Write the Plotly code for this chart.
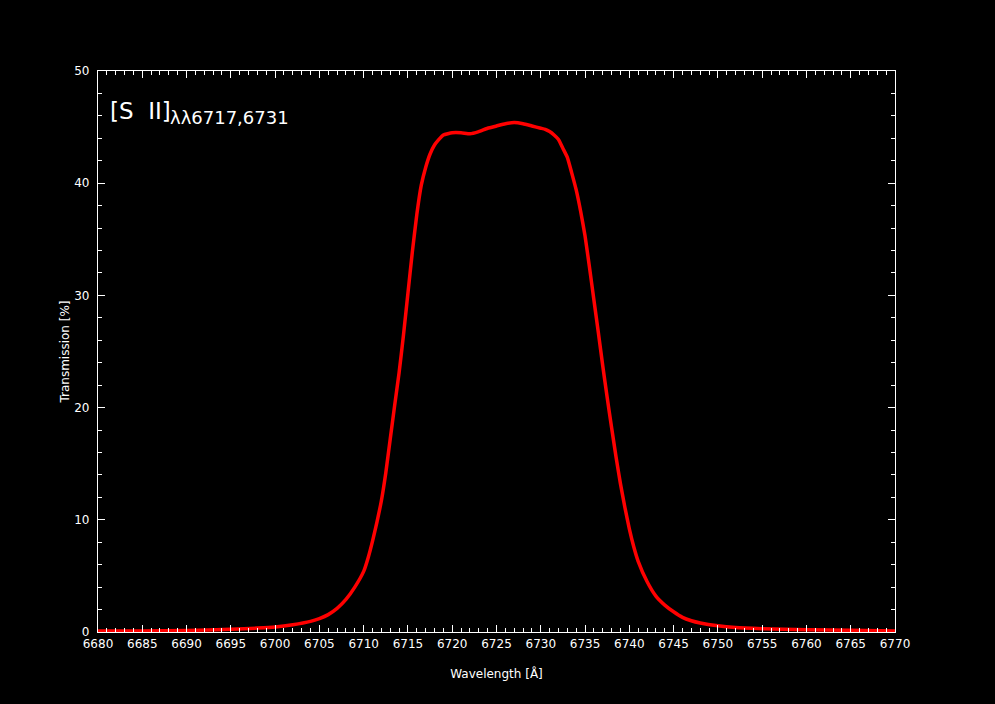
import plotly.graph_objects as go

# filter transmission curve
wavelength = [
    6680, 6685, 6690, 6695, 6698, 6700, 6702, 6704, 6705, 6706,
    6707, 6708, 6709, 6710, 6710.5, 6711, 6711.5, 6712, 6712.5, 6713,
    6713.5, 6714, 6714.5, 6715, 6715.5, 6716, 6716.5, 6717, 6717.5, 6718,
    6718.5, 6719, 6720, 6721, 6722, 6723, 6724, 6725, 6726, 6727,
    6728, 6729, 6730, 6730.5, 6731, 6731.5, 6732, 6732.5, 6733, 6733.5,
    6734, 6734.5, 6735, 6735.5, 6736, 6736.5, 6737, 6737.5, 6738, 6738.5,
    6739, 6739.5, 6740, 6740.5, 6741, 6742, 6743, 6744, 6745, 6746,
    6747, 6748, 6750, 6752, 6755, 6760, 6765, 6770,
]
transmission = [
    0.08, 0.10, 0.14, 0.24, 0.35, 0.45, 0.65, 0.95, 1.2, 1.55,
    2.1, 2.9, 4.0, 5.4, 6.6, 8.1, 9.8, 11.7, 14.2, 17.2,
    20.2, 23.1, 26.5, 30.2, 33.9, 37.2, 39.8, 41.4, 42.6, 43.4,
    43.9, 44.3, 44.5, 44.5, 44.4, 44.6, 44.9, 45.1, 45.3, 45.4,
    45.3, 45.1, 44.9, 44.8, 44.6, 44.3, 43.9, 43.1, 42.3, 40.9,
    39.4, 37.5, 35.3, 32.5, 29.6, 26.7, 23.7, 20.9, 18.2, 15.6,
    13.2, 11.1, 9.2, 7.6, 6.3, 4.5, 3.2, 2.4, 1.8, 1.3,
    1.0, 0.8, 0.55, 0.4, 0.3, 0.2, 0.15, 0.1,
]

FONT = "DejaVu Sans"

fig = go.Figure()
fig.add_trace(go.Scatter(
    x=wavelength, y=transmission, mode="lines",
    line=dict(color="#ff0000", width=3.5, shape="spline", smoothing=0.4),
    showlegend=False,
))

axis_common = dict(
    showline=True, linecolor="white", linewidth=1.2, mirror="allticks",
    ticks="inside", tickcolor="white", ticklen=7, tickwidth=1.2,
    showgrid=False, zeroline=False,
    tickfont=dict(family=FONT, size=12, color="white"),
)

fig.update_xaxes(
    range=[6680, 6770], dtick=5, tick0=6680,
    minor=dict(dtick=1, ticks="inside", ticklen=4, tickcolor="white", tickwidth=1.2, showgrid=False),
    title=dict(text="Wavelength [Å]", font=dict(family=FONT, size=12, color="white"), standoff=20),
    **axis_common,
)
fig.update_yaxes(
    range=[0, 50], dtick=10, tick0=0, ticklabelstandoff=5,
    minor=dict(dtick=2, ticks="inside", ticklen=4, tickcolor="white", tickwidth=1.2, showgrid=False),
    title=dict(text="Transmission [%]", font=dict(family=FONT, size=12, color="white"), standoff=2),
    **axis_common,
)

# line label: "[S II]" with the wavelengths set as a subscript
fig.add_annotation(
    x=0.013, y=0.929, xref="paper", yref="paper", xanchor="left", yanchor="middle",
    text="[S&nbsp;&nbsp;II]", showarrow=False,
    font=dict(family=FONT, size=23, color="white"),
)
fig.add_annotation(
    x=0.088, y=0.917, xref="paper", yref="paper", xanchor="left", yanchor="middle",
    text="λλ6717,6731", showarrow=False,
    font=dict(family=FONT, size=18, color="white"),
)

fig.update_layout(
    width=995, height=704,
    paper_bgcolor="black", plot_bgcolor="black",
    margin=dict(l=98, r=100, t=71, b=72),
    font=dict(family=FONT, color="white"),
)

# drop the page's default body margin so the figure fills the window
fig.write_html(
    "out.html",
    config={"displayModeBar": False},
    post_script="document.body.style.margin='0';document.body.style.background='black';",
)
